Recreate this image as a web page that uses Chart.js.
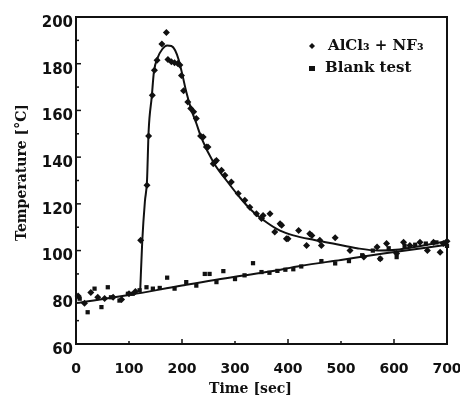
<!DOCTYPE html>
<html lang="en">
<head>
    <meta charset="UTF-8">
    <title>Temperature vs time</title>
    <script src="https://cdn.jsdelivr.net/npm/chart.js"></script>
    <style>
        body {
            margin: 0;
            background-color: white;
        }
        .chart-box {
            width: 460px;
            height: 401px;
        }
    </style>
</head>
<body>

<div class="chart-box">
    <canvas id="tempChart"></canvas>
</div>

<script>
    // AlCl3 + NF3 run: measured points (time in sec, temperature in C)
    const alclTime = [4, 16, 28, 41, 54, 70, 86, 100, 112, 122, 134, 137, 144, 148, 153, 162, 170.5, 173.5, 180, 186, 192, 196,
        199, 203, 211, 216.5, 222, 227, 235, 240, 246, 249, 259, 262, 265, 274.5, 281, 293, 306, 318.5, 328, 340.5, 350, 353,
        366, 375, 385, 388, 397, 400, 420, 435, 441, 445, 460, 463, 489, 517, 543, 568, 574, 586, 605, 618, 630, 649, 663,
        674.5, 687, 693, 700];
    const alclTemp = [80.5, 77.5, 82, 80, 79.5, 80, 79, 81.5, 82.5, 104.4, 128, 149, 166.5, 177.2, 181.5, 188.4, 193.4, 181.8,
        180.8, 180.4, 180.1, 179.4, 175, 168.4, 163.6, 160.8, 159.4, 156.5, 149, 148.6, 144.3, 144.3, 137.2, 137.9, 138.6, 134.4,
        132.2, 129.4, 124.4, 121.5, 118.6, 115.8, 113.7, 115, 115.8, 107.9, 111.5, 110.8, 105.1, 105.1, 108.6, 102.2, 107.2,
        106.5, 104.4, 102.2, 105.5, 100, 97.2, 101.5, 96.5, 103, 98.7, 103.6, 102.2, 103.6, 100, 103.6, 99.3, 103, 104];

    // Blank test: measured points
    const blankTime = [7, 22, 35, 48, 60, 66, 82, 98, 107, 120, 133, 145, 158, 172, 186, 208, 227, 243, 252, 265, 278, 300, 318,
        334, 350, 365, 380, 395, 410, 425, 463, 489, 515, 540, 560, 574, 590, 605, 620, 640, 660, 680, 700];
    const blankTemp = [79.4, 73.6, 83.7, 75.8, 84.3, 80, 78.6, 81.5, 81.5, 83, 84.3, 83.7, 84, 88.4, 83.7, 86.5, 85, 90, 90, 86.5,
        91.2, 87.8, 89.4, 94.6, 90.8, 90.5, 91.3, 91.8, 92, 93.2, 95.5, 94.5, 95.5, 98, 100, 96.5, 101, 97.2, 102, 102.5, 103,
        103.5, 102];

    // Fitted curves as drawn in the figure
    const alclFitTime = [121, 125, 130, 134, 137, 143, 147, 154, 163, 172, 180, 187, 194, 201, 208, 218, 227, 237, 260, 284, 310,
        330, 360, 385, 410, 450, 485, 530, 570, 610, 650, 700];
    const alclFitTemp = [82, 104, 121, 130, 151, 166, 176.5, 182.5, 186.3, 187.8, 187.6, 185.8, 181.5, 175, 168, 160, 154.5, 148,
        137.5, 130, 122.5, 117.5, 112, 108.5, 106.5, 104.5, 103, 101, 100, 100.5, 102, 104];
    const blankFitTime = [0, 100, 200, 300, 366, 423, 500, 580, 700];
    const blankFitTemp = [77.5, 81, 85, 88.8, 91, 93.4, 96, 98.7, 102.5];

    // Axis ticks and titles
    const timeTicks = [0, 100, 200, 300, 400, 500, 600, 700];
    const tempTicks = [60, 80, 100, 120, 140, 160, 180, 200];
    const xTitle = 'Time [sec]';
    const yTitle = 'Temperature [\u00b0C]';

    const toXY = (xs, ys) => xs.map((x, i) => ({ x: x, y: ys[i] }));
    const ink = '#111';
    const serifBold = 'bold 14px "DejaVu Serif"';

    // frame around the plot, small inward ticks, axis titles
    const frameTicks = {
        id: 'frameTicks',
        afterDraw(chart) {
            const c = chart.ctx;
            const a = chart.chartArea;
            const xs = chart.scales.x;
            const ys = chart.scales.y;
            c.save();
            c.strokeStyle = ink;
            c.lineWidth = 2;
            c.strokeRect(a.left, a.top, a.right - a.left, a.bottom - a.top);
            c.lineWidth = 1.5;
            for (let v = 70; v < 200; v += 10) {
                const py = ys.getPixelForValue(v);
                const len = v % 20 === 0 ? 5 : 3;
                c.beginPath();
                c.moveTo(a.left, py);
                c.lineTo(a.left + len, py);
                c.stroke();
            }
            for (let v = 100; v < 700; v += 100) {
                const px = xs.getPixelForValue(v);
                const len = v % 200 === 0 ? 5 : 3;
                c.beginPath();
                c.moveTo(px, a.bottom);
                c.lineTo(px, a.bottom - len);
                c.stroke();
            }

            // titles sit a little off the axis centres in the original
            c.fillStyle = ink;
            c.font = serifBold;
            c.textAlign = 'center';
            c.textBaseline = 'middle';
            c.fillText(xTitle, (a.left + a.right) / 2 - 11, a.bottom + 45);
            c.translate(22, (a.top + a.bottom) / 2 - 8);
            c.rotate(-Math.PI / 2);
            c.fillText(yTitle, 0, 0);
            c.restore();
        }
    };

    // legend in the top right corner
    const cornerLegend = {
        id: 'cornerLegend',
        afterDraw(chart) {
            const c = chart.ctx;
            const a = chart.chartArea;
            const x = a.right - 135;
            const y1 = a.top + 29;
            const y2 = a.top + 51;
            c.save();
            c.fillStyle = ink;
            c.beginPath();
            c.moveTo(x, y1 - 3);
            c.lineTo(x + 3, y1);
            c.lineTo(x, y1 + 3);
            c.lineTo(x - 3, y1);
            c.closePath();
            c.fill();
            c.fillRect(x - 3, y2 - 2, 6, 5);
            c.font = 'bold 15px "DejaVu Serif"';
            c.textBaseline = 'middle';
            c.fillText('AlCl\u2083 + NF\u2083', x + 16, y1);
            c.fillText('Blank test', x + 13, y2);
            c.restore();
        }
    };

    const ctx = document.getElementById('tempChart').getContext('2d');
    const tempChart = new Chart(ctx, {
        type: 'scatter',
        data: {
            datasets: [
                {
                    label: 'AlCl3 + NF3',
                    data: toXY(alclTime, alclTemp),
                    pointStyle: 'rectRot',
                    pointRadius: 3.5,
                    backgroundColor: ink,
                    borderColor: ink,
                    borderWidth: 0,
                    clip: 4
                },
                {
                    label: 'Blank test',
                    data: toXY(blankTime, blankTemp),
                    pointStyle: 'rect',
                    pointRadius: 3,
                    backgroundColor: ink,
                    borderColor: ink,
                    borderWidth: 0,
                    clip: 4
                },
                {
                    label: 'AlCl3 fit',
                    data: toXY(alclFitTime, alclFitTemp),
                    showLine: true,
                    pointRadius: 0,
                    borderColor: ink,
                    borderWidth: 2,
                    cubicInterpolationMode: 'monotone'
                },
                {
                    label: 'Blank fit',
                    data: toXY(blankFitTime, blankFitTemp),
                    showLine: true,
                    pointRadius: 0,
                    borderColor: ink,
                    borderWidth: 2,
                    cubicInterpolationMode: 'monotone'
                }
            ]
        },
        options: {
            responsive: true,
            maintainAspectRatio: false,
            animation: false,
            layout: {
                padding: { top: 17, right: 13, left: 0, bottom: 0 }
            },
            plugins: {
                legend: { display: false },
                tooltip: { enabled: false }
            },
            scales: {
                x: {
                    type: 'linear',
                    min: 0,
                    max: 700,
                    afterFit: (s) => { s.height = 57; s.paddingLeft = 0; s.paddingRight = 0; },
                    afterBuildTicks: (s) => { s.ticks = timeTicks.map(v => ({ value: v })); },
                    grid: { display: false, drawTicks: false },
                    border: { display: false },
                    ticks: {
                        autoSkip: false,
                        maxRotation: 0,
                        padding: 17,
                        color: ink,
                        font: { family: '"DejaVu Sans"', size: 14, weight: 'bold' }
                    }
                },
                y: {
                    type: 'linear',
                    min: 60,
                    max: 200,
                    afterFit: (s) => { s.width = 76; s.paddingTop = 0; s.paddingBottom = 0; },
                    afterBuildTicks: (s) => { s.ticks = tempTicks.map(v => ({ value: v })); },
                    grid: { display: false, drawTicks: false },
                    border: { display: false },
                    ticks: {
                        padding: 3,
                        labelOffset: 6,
                        color: ink,
                        font: { family: '"DejaVu Sans"', size: 15, weight: 'bold' }
                    }
                }
            }
        },
        plugins: [frameTicks, cornerLegend]
    });
</script>
</body>
</html>
